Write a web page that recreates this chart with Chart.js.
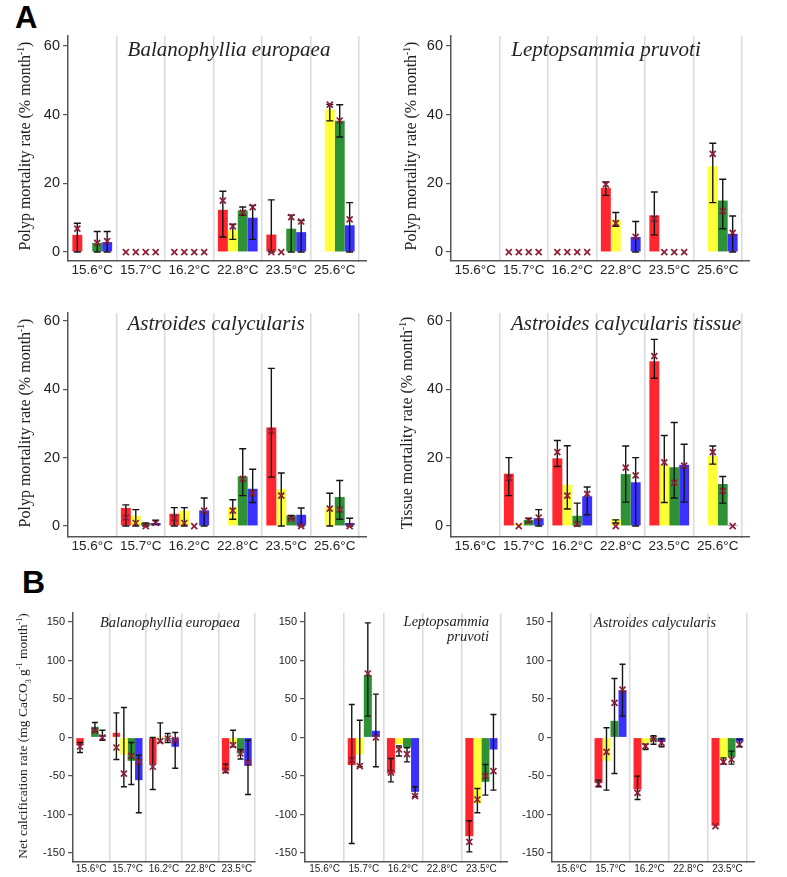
<!DOCTYPE html>
<html>
<head>
<meta charset="utf-8">
<script src="https://cdn.jsdelivr.net/npm/chart.js@4.4.1/dist/chart.umd.min.js"></script>
<style>
  body { margin: 0; background: #fff; }
  #page { position: relative; width: 787px; height: 877px; overflow: hidden; font-family: "Liberation Sans", Arial, sans-serif; }
  canvas { position: absolute; }
  .tag { position: absolute; font-weight: bold; line-height: 1; color: #000; }
  .ttl { position: absolute; font-family: "Liberation Serif", "Times New Roman", serif; font-style: italic; white-space: nowrap; line-height: 1; color: #222; transform: translate(-50%, -50%); }
  .ytl { position: absolute; font-family: "Liberation Serif", "Times New Roman", serif; white-space: nowrap; line-height: 1; color: #222; transform: translate(-50%, -50%) rotate(-90deg); }
  sup, sub { font-size: 0.6em; line-height: 0; }
</style>
</head>
<body>
<div id="page">
  <div class="tag" style="left:15px;top:2px;font-size:31px">A</div>
  <div class="tag" style="left:22px;top:566px;font-size:32px">B</div>

  <canvas id="a1" width="385" height="285" style="left:0;top:0"></canvas>
  <canvas id="a2" width="402" height="285" style="left:385px;top:0"></canvas>
  <canvas id="a3" width="385" height="270" style="left:0;top:290px"></canvas>
  <canvas id="a4" width="402" height="270" style="left:385px;top:290px"></canvas>
  <canvas id="b1" width="262" height="287" style="left:0;top:590px"></canvas>
  <canvas id="b2" width="250" height="287" style="left:262px;top:590px"></canvas>
  <canvas id="b3" width="275" height="287" style="left:512px;top:590px"></canvas>

  <div class="ttl" style="left:229px;top:49px;font-size:21px">Balanophyllia europaea</div>
  <div class="ttl" style="left:606px;top:49px;font-size:21px">Leptopsammia pruvoti</div>
  <div class="ttl" style="left:216px;top:323px;font-size:21px">Astroides calycularis</div>
  <div class="ttl" style="left:626px;top:323px;font-size:21px">Astroides calycularis tissue</div>
  <div class="ttl" style="left:170px;top:622px;font-size:14.5px">Balanophyllia europaea</div>
  <div class="ttl" style="left:489px;top:629px;font-size:14.5px;text-align:right;line-height:15px;transform:translate(-100%,-50%)">Leptopsammia<br>pruvoti</div>
  <div class="ttl" style="left:655px;top:622px;font-size:14.5px">Astroides calycularis</div>

  <div class="ytl" style="left:25px;top:146px;font-size:16px">Polyp mortality rate (% month<sup>-1</sup>)</div>
  <div class="ytl" style="left:411px;top:146px;font-size:16px">Polyp mortality rate (% month<sup>-1</sup>)</div>
  <div class="ytl" style="left:25px;top:423px;font-size:16px">Polyp mortality rate (% month<sup>-1</sup>)</div>
  <div class="ytl" style="left:407px;top:423px;font-size:16px">Tissue mortality rate (% month<sup>-1</sup>)</div>
  <div class="ytl" style="left:23px;top:736px;font-size:13.5px">Net calcification rate (mg CaCO<sub>3</sub> g<sup>-1</sup> month<sup>-1</sup>)</div>
</div>

<script>
// categories and ticks
const tempsA = ['15.6°C', '15.7°C', '16.2°C', '22.8°C', '23.5°C', '25.6°C'];
const tempsB = ['15.6°C', '15.7°C', '16.2°C', '22.8°C', '23.5°C'];
const ticksA = [0, 20, 40, 60];
const ticksB = [-150, -100, -50, 0, 50, 100, 150];

// series order in every panel: red, yellow, green, blue
const colors = ['#ff2630', '#ffff3a', '#2f9136', '#3a30ff'];

// A - Balanophyllia europaea (polyp mortality)
const beMean  = [[5.0, 0, 0, 12.3, 5.1, null], [null, 0, 0, 6.4, 0, 41.5], [2.7, 0, 0, 12.1, 6.8, 38.2], [2.9, 0, 0, 10.0, 5.8, 7.8]];
const beLo    = [[0, null, null, 4.4, 0, null], [null, null, null, 3.7, null, 38.2], [0, null, null, 10.7, 0, 33.5], [0, null, null, 3.7, 0, 0]];
const beHi    = [[8.4, null, null, 17.7, 15.2, null], [null, null, null, 8.1, null, 43.0], [6.0, null, null, 13.1, 10.7, 42.9], [6.0, null, null, 13.6, 9.2, 14.4]];
const beCross = [[6.8, 0, 0, 15.0, 0, null], [null, 0, 0, 7.5, 0, 42.9], [2.7, 0, 0, 11.5, 10.2, 38.3], [3.2, 0, 0, 13.1, 8.9, 9.5]];

// A - Leptopsammia pruvoti
const lpMean  = [[null, 0, 0, 18.7, 10.7, null], [null, 0, 0, 9.4, 0, 25.0], [null, 0, 0, null, 0, 15.0], [null, 0, 0, 4.4, 0, 5.3]];
const lpLo    = [[null, null, null, 16.5, 5.0, null], [null, null, null, 7.5, null, 14.4], [null, null, null, null, null, 6.8], [null, null, null, 0, null, 0]];
const lpHi    = [[null, null, null, 20.4, 17.5, null], [null, null, null, 11.5, null, 31.7], [null, null, null, null, null, 21.2], [null, null, null, 8.9, null, 10.5]];
const lpCross = [[null, 0, 0, 19.7, 9.7, null], [null, 0, 0, 8.4, 0, 28.6], [null, 0, 0, null, 0, 11.9], [null, 0, 0, 4.4, 0, 5.6]];

// A - Astroides calycularis
const acMean  = [[null, 5.3, 3.6, null, 28.8, null], [null, 3.0, 4.5, 5.5, 10.8, 5.5], [null, 0.9, 0, 14.5, 3.1, 8.5], [null, 0.9, 4.6, 10.9, 3.3, 0.9]];
const acLo    = [[null, 0, 0, null, 14.3, null], [null, 0, 0, 2.0, 0, 0], [null, 0, null, 8.9, 2.1, 2.0], [null, 0.5, 0, 6.9, 0, 0]];
const acHi    = [[null, 6.2, 5.4, null, 46.1, null], [null, 4.8, 5.4, 7.7, 15.5, 9.6], [null, 0.9, null, 22.6, 3.1, 13.3], [null, 1.7, 8.2, 16.6, 5.3, 2.3]];
const acCross = [[null, 2.5, 2.3, null, 27.8, null], [null, 0.9, 0.9, 4.5, 8.9, 5.1], [null, 0, 0, 13.8, 2.1, 4.8], [null, 0.9, 4.5, 9.6, 0, 0]];

// A - Astroides calycularis tissue
const atMean  = [[null, 15.3, 19.8, null, 48.2, null], [null, 0.6, 12.1, 2.0, 17.9, 20.5], [null, 1.8, 3.0, 15.2, 17.2, 12.3], [null, 2.3, 8.7, 12.8, 17.9, 0.3]];
const atLo    = [[null, 8.9, 17.4, null, 43.2, null], [null, null, 5.0, 0.9, 6.9, 18.1], [null, 1.1, 0, 7.0, 8.2, 6.7], [null, 0, 3.3, 0, 7.0, null]];
const atHi    = [[null, 20.0, 25.0, null, 54.6, null], [null, null, 23.5, 1.8, 26.5, 23.4], [null, 2.3, 6.7, 23.4, 30.3, 14.5], [null, 4.8, 11.4, 20.0, 23.9, null]];
const atCross = [[null, 14.0, 21.6, null, 49.7, null], [null, 0, 8.9, 0, 18.6, 21.6], [null, 1.6, 0.6, 17.1, 12.7, 10.3], [null, 2.5, 9.4, 14.8, 17.7, 0]];

// B - Balanophyllia europaea (net calcification)
const cbeMean  = [[-10.0, 6.1, -34.6, null, -43.3], [null, -22.0, 1.7, null, -6.9], [13.9, -30.3, -2.5, null, -20.8], [3.0, -55.4, -12.1, null, -36.8]];
const cbeLo    = [[-19.5, -28.6, -67.5, null, -45.5], [null, -64, -6.5, null, -12], [7.4, -61, -6.5, null, -28], [-3.5, -97.8, -40, null, -74]];
const cbeHi    = [[-6.5, 32.0, 0, null, -34.6], [null, 39, 19, null, 9.5], [19.5, -6.5, 5.2, null, -15.6], [9.5, -23, 6.5, null, -3.5]];
const cbeCross = [[-12, -13, -38, null, -43], [null, -46.8, -4.8, null, -10], [8.7, -23.8, -1.3, null, -20.8], [0, -31.6, -3.5, null, -32.5]];

// B - Leptopsammia pruvoti
const clpMean  = [[null, -35.9, -46.8, null, -128.1], [null, -22, -8.7, null, -85.7], [null, 81, -13, null, -57.6], [null, 8.7, -70.6, null, -15.6]];
const clpLo    = [[null, -137.7, -57.6, null, -148.5], [null, -38, -24, null, -97.8], [null, 27.7, -31.6, null, -74.9], [null, -38, -77, null, -68.4]];
const clpHi    = [[null, 42.9, -27.3, null, -108.2], [null, 22.5, -11, null, -66.2], [null, 148.9, -13.4, null, -35.1], [null, 56.3, -64, null, 29.9]];
const clpCross = [[null, -29.4, -45.5, null, -135.5], [null, -37.2, -15.6, null, -80.5], [null, 83.1, -21.6, null, -50.2], [null, 0, -76.2, null, -43.7]];

// B - Astroides calycularis
const cacMean  = [[null, -58.9, -67.5, null, -114.7], [null, -30.3, -7.8, null, -28.1], [null, 21.6, -4.3, null, -25.1], [null, 61.5, -5.6, null, -5.6]];
const cacLo    = [[null, -64, -80.5, null, null], [null, -68.4, -15.6, null, -34.6], [null, -46.8, -8.7, null, -34.6], [null, 27.7, -12, null, -12]];
const cacHi    = [[null, -55.4, -50.2, null, null], [null, 12.6, -8.7, null, -26.4], [null, 76.6, 2.2, null, -17.7], [null, 95.2, -1.3, null, -2.2]];
const cacCross = [[null, -60.6, -71.9, null, -115], [null, -18.6, -11.3, null, -31.6], [null, 45, -2.2, null, -28.6], [null, 62.3, -6.9, null, -9.1]];

// draws error bars and the x markers on top of the bars
const errorBars = {
  id: 'errorBars',
  afterDatasetsDraw(chart, args, opts) {
    const { ctx } = chart;
    const yScale = chart.scales.y;
    ctx.save();
    ctx.lineCap = 'butt';
    chart.data.datasets.forEach((ds, i) => {
      const meta = chart.getDatasetMeta(i);
      meta.data.forEach((bar, j) => {
        const lo = ds.errLo[j];
        const hi = ds.errHi[j];
        if (lo == null || hi == null) return;
        const x = bar.x;
        const y1 = yScale.getPixelForValue(lo);
        const y2 = yScale.getPixelForValue(hi);
        ctx.strokeStyle = '#151515';
        ctx.lineWidth = 1.4;
        ctx.beginPath();
        ctx.moveTo(x, y1); ctx.lineTo(x, y2);
        ctx.moveTo(x - opts.cap, y1); ctx.lineTo(x + opts.cap, y1);
        ctx.moveTo(x - opts.cap, y2); ctx.lineTo(x + opts.cap, y2);
        ctx.stroke();
      });
    });
    chart.data.datasets.forEach((ds, i) => {
      const meta = chart.getDatasetMeta(i);
      meta.data.forEach((bar, j) => {
        const v = ds.cross[j];
        if (v == null) return;
        const x = bar.x;
        const y = yScale.getPixelForValue(v);
        const r = opts.size;
        ctx.strokeStyle = '#8e1f36';
        ctx.lineWidth = 1.7;
        ctx.beginPath();
        ctx.moveTo(x - r, y - r); ctx.lineTo(x + r, y + r);
        ctx.moveTo(x - r, y + r); ctx.lineTo(x + r, y - r);
        ctx.stroke();
      });
    });
    ctx.restore();
  }
};

// the x axis line runs a few pixels past the last grid line
const axisTail = {
  id: 'axisTail',
  afterDraw(chart, args, opts) {
    if (!opts.ext) return;
    const { ctx, chartArea } = chart;
    const y = Math.round(chartArea.bottom - 0.75) + 0.75;
    ctx.save();
    ctx.strokeStyle = '#555';
    ctx.lineWidth = 1.5;
    ctx.beginPath();
    ctx.moveTo(chartArea.right - 1, y);
    ctx.lineTo(chartArea.right + opts.ext, y);
    ctx.stroke();
    ctx.restore();
  }
};

const makePanel = (id, cfg) => {
  const datasets = cfg.mean.map((vals, k) => ({
    label: 'series ' + (k + 1),
    data: vals,
    errLo: cfg.lo[k],
    errHi: cfg.hi[k],
    cross: cfg.cross[k],
    backgroundColor: colors[k],
    borderWidth: 0,
    categoryPercentage: 0.82,
    barPercentage: 1.0,
  }));

  return new Chart(id, {
    type: 'bar',
    data: { labels: cfg.labels, datasets: datasets },
    plugins: [errorBars, axisTail],
    options: {
      responsive: false,
      animation: false,
      layout: { padding: { top: cfg.padTop, right: cfg.padRight, left: 0, bottom: 0 } },
      plugins: {
        legend: { display: false },
        tooltip: { enabled: false },
        errorBars: { cap: cfg.cap, size: 3 },
        axisTail: { ext: cfg.ext },
      },
      scales: {
        x: {
          offset: true,
          grid: {
            offset: true,
            drawTicks: false,
            lineWidth: 1.5,
            color: (c) => c.index === 0 ? 'rgba(0,0,0,0)' : '#dadada',
          },
          border: { color: '#555', width: 1.5 },
          ticks: {
            autoSkip: false,
            maxRotation: 0,
            padding: 1,
            color: '#222',
            font: { family: 'Liberation Sans', size: cfg.xFont },
          },
          afterFit: (s) => { s.height = cfg.xH; },
        },
        y: {
          min: cfg.yMin,
          max: cfg.yMax,
          afterBuildTicks: (axis) => { axis.ticks = cfg.yTicks.map((v) => ({ value: v })); },
          afterFit: (s) => { s.width = cfg.yW; },
          grid: { drawOnChartArea: false, drawTicks: true, tickLength: 5, color: '#555', lineWidth: 1.2 },
          border: { color: '#555', width: 1.5 },
          ticks: {
            padding: 3,
            color: '#222',
            font: { family: 'Liberation Sans', size: cfg.yFont },
          },
        },
      },
    },
  });
};

const panelA = { labels: tempsA, yTicks: ticksA, xFont: 13.5, yFont: 14.5, cap: 3.5, ext: 8 };
const panelB = { labels: tempsB, yTicks: ticksB, xFont: 10, yFont: 11, cap: 3,
                 yMin: -161.7, yMax: 161.7, padTop: 23, xH: 15 };

makePanel('a1', { ...panelA, mean: beMean, lo: beLo, hi: beHi, cross: beCross,
  yMin: -2.6, yMax: 62.9, padTop: 36, padRight: 26, xH: 24, yW: 68 });
makePanel('a2', { ...panelA, mean: lpMean, lo: lpLo, hi: lpHi, cross: lpCross,
  yMin: -2.6, yMax: 62.9, padTop: 36, padRight: 45, xH: 24, yW: 66 });
makePanel('a3', { ...panelA, mean: acMean, lo: acLo, hi: acHi, cross: acCross,
  yMin: -3.2, yMax: 62.3, padTop: 23, padRight: 26, xH: 23, yW: 68 });
makePanel('a4', { ...panelA, mean: atMean, lo: atLo, hi: atHi, cross: atCross,
  yMin: -3.2, yMax: 62.3, padTop: 23, padRight: 45, xH: 23, yW: 66 });

makePanel('b1', { ...panelB, mean: cbeMean, lo: cbeLo, hi: cbeHi, cross: cbeCross, padRight: 7, yW: 73, ext: 0 });
makePanel('b2', { ...panelB, mean: clpMean, lo: clpLo, hi: clpHi, cross: clpCross, padRight: 11, yW: 43, ext: 7 });
makePanel('b3', { ...panelB, mean: cacMean, lo: cacLo, hi: cacHi, cross: cacCross, padRight: 40, yW: 40, ext: 8 });
</script>
</body>
</html>
